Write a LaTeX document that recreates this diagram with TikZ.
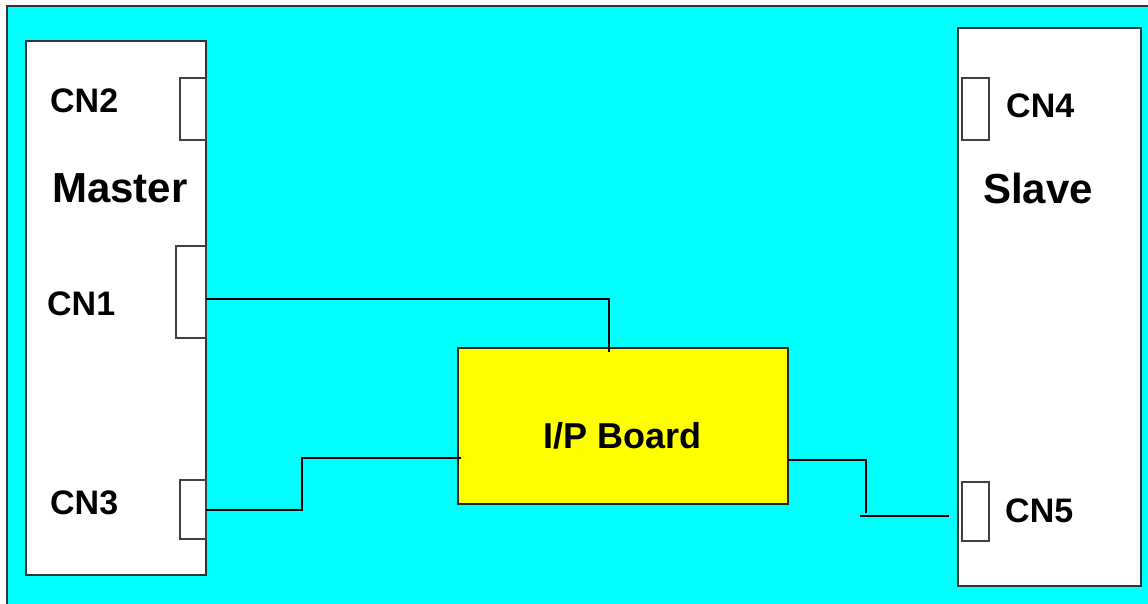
\documentclass[tikz,border=0pt]{standalone}
\usepackage{fontspec}
\setmainfont{Liberation Sans}
\definecolor{bgcyan}{HTML}{00FFFF}
\definecolor{boardyellow}{HTML}{FFFF00}
\begin{document}
\begin{tikzpicture}[x=1pt,y=-1pt,
  box/.style={draw=black!80, line width=1.6pt, fill=white, inner sep=0pt, outer sep=0pt},
  conn/.style={draw=black!75, line width=1.3pt, fill=white, inner sep=0pt, outer sep=0pt},
  wire/.style={draw=black, line width=1.4pt},
  lbl/.style={font=\bfseries\fontsize{34}{40}\selectfont, anchor=base west, inner sep=0pt},
  big/.style={font=\bfseries\fontsize{42}{50}\selectfont, anchor=base west, inner sep=0pt}]
\useasboundingbox (0,0) rectangle (1148,604);
\clip (0,0) rectangle (1148,604);
\fill[white] (0,0) rectangle (1148,604);
\draw[fill=bgcyan, draw=black!80, line width=1.6pt] (7,6) rectangle (1170,630);
% boards
\node[box, minimum width=180, minimum height=534] (master) at (116,308) {};
\node[box, minimum width=183, minimum height=558] (slave) at (1049.5,307) {};
% connectors
\node[conn, minimum width=26, minimum height=62] (cn2) at (193,109) {};
\node[conn, minimum width=30, minimum height=92] (cn1) at (191,292) {};
\node[conn, minimum width=26, minimum height=59] (cn3) at (193,509.5) {};
\node[conn, minimum width=27, minimum height=62] (cn4) at (975.5,109) {};
\node[conn, minimum width=27, minimum height=59] (cn5) at (975.5,511.5) {};
% I/P board
\node[box, fill=boardyellow, draw=black!85, line width=1.4pt, minimum width=330, minimum height=156] (board) at (623,426) {};
% wires
\coordinate (w1) at (609,299);
\coordinate (w2) at (302,458);
\coordinate (w3) at (866,460);
\coordinate (w4) at (866,513);
\coordinate (w5) at (860,516);
\coordinate (w6) at (949,516);
\draw[wire] (cn1.east |- w1) -| ([yshift=-4pt]board.north -| w1);
\draw[wire] (cn3.east |- 0,510) -| (w2) -- ([xshift=3pt]board.west |- w2);
\draw[wire] (board.east |- w3) -| (w4);
\draw[wire] (w5) -- (w6);
% labels
\node[lbl] (tcn2) at (50,113) {CN2};
\node[big] (tmaster) at (52,203) {Master};
\node[lbl] (tcn1) at (47,315) {CN1};
\node[lbl] (tcn3) at (50,514) {CN3};
\node[lbl] (tcn4) at (1006,118) {CN4};
\node[big] (tslave) at (983,204) {Slave};
\node[lbl] (tcn5) at (1005,522) {CN5};
\node[lbl, font=\bfseries\fontsize{36}{40}\selectfont] (tboard) at (543,448) {I/P Board};
\end{tikzpicture}
\end{document}
